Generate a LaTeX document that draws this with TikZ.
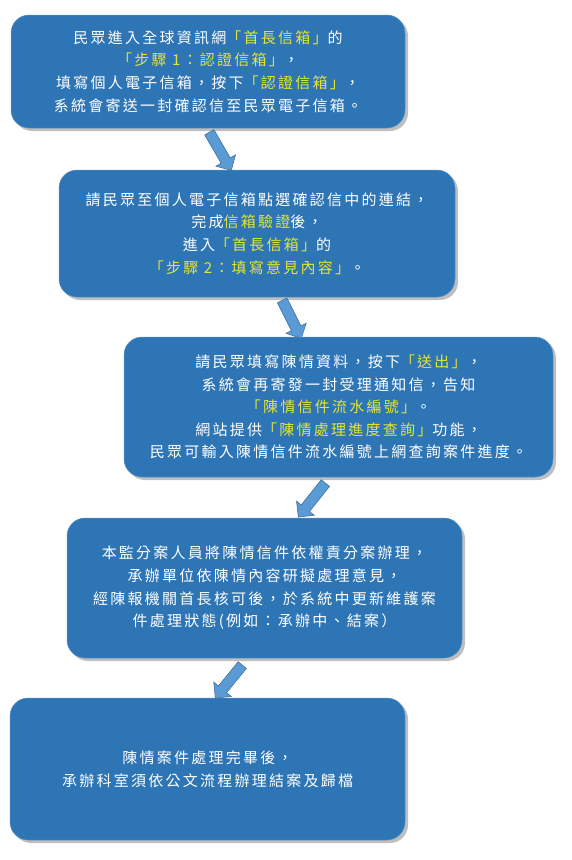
\documentclass[tikz,border=0pt]{standalone}
\usepackage{fontspec}
\newfontfamily\cjk{Noto Sans CJK TC}[LetterSpace=15]
\usetikzlibrary{shapes.arrows,shadows}
\definecolor{boxblue}{HTML}{2E75B6}
\definecolor{arrowblue}{HTML}{5B9BD5}
\definecolor{arrowline}{HTML}{41719C}
\definecolor{hl}{HTML}{E4E632}
\newcommand{\hy}[1]{\textcolor{hl}{#1}}
\tikzset{
  x=1pt,y=-1pt,
  stepbox/.style={fill=boxblue, draw=boxblue!80!white, line width=0.5pt, rounded corners=18pt,
    text=white, align=center, inner sep=0pt,
    drop shadow={shadow xshift=3pt, shadow yshift=-3pt, fill=black, opacity=0.25},
    font=\cjk\fontsize{15}{22.6}\selectfont},
  blockarrow/.style={single arrow, fill=arrowblue, draw=arrowline, line width=0.6pt,
    inner xsep=0pt, inner ysep=5pt, single arrow head extend=6pt,
    single arrow head indent=0pt},
}
\begin{document}
\begin{tikzpicture}
\useasboundingbox (0,0) rectangle (572,860);
\node[stepbox, minimum width=394pt, minimum height=113pt] (b1) at (208,71.5)
  {民眾進入全球資訊網\hy{「首長信箱」}的\\ \hy{「步驟 1：認證信箱」}，\\ 填寫個人電子信箱，按下\hy{「認證信箱」}，\\ 系統會寄送一封確認信至民眾電子信箱。};
\node[stepbox, minimum width=396pt, minimum height=127pt] (b2) at (257,233.5)
  {請民眾至個人電子信箱點選確認信中的連結，\\ 完成\hy{信箱驗證}後，\\ 進入\hy{「首長信箱」}的\\ \hy{「步驟 2：填寫意見內容」}。};
\node[stepbox, minimum width=429pt, minimum height=140pt] (b3) at (338.5,407)
  {請民眾填寫陳情資料，按下\hy{「送出」}，\\ 系統會再寄發一封受理通知信，告知\\ \hy{「陳情信件流水編號」}。\\ 網站提供\hy{「陳情處理進度查詢」}功能，\\ 民眾可輸入陳情信件流水編號上網查詢案件進度。};
\node[stepbox, minimum width=395pt, minimum height=140pt] (b4) at (264.5,588)
  {本監分案人員將陳情信件依權責分案辦理，\\ 承辦單位依陳情內容研擬處理意見，\\ 經陳報機關首長核可後，於系統中更新維護案\\ 件處理狀態(例如：承辦中、結案）};
\node[stepbox, minimum width=395pt, minimum height=142pt] (b5) at (207.5,769)
  {陳情案件處理完畢後，\\ 承辦科室須依公文流程辦理結案及歸檔};
\node[blockarrow, minimum height=44pt, rotate=-59.9] (a1) at (219,149) {};
\node[blockarrow, minimum height=42.5pt, rotate=-63.4] (a2) at (290.5,317) {};
\node[blockarrow, minimum height=43.4pt, rotate=-128.5] (a3) at (313.5,498) {};
\node[blockarrow, minimum height=42.6pt, rotate=-129.3] (a4) at (230.5,679.5) {};
\end{tikzpicture}
\end{document}
